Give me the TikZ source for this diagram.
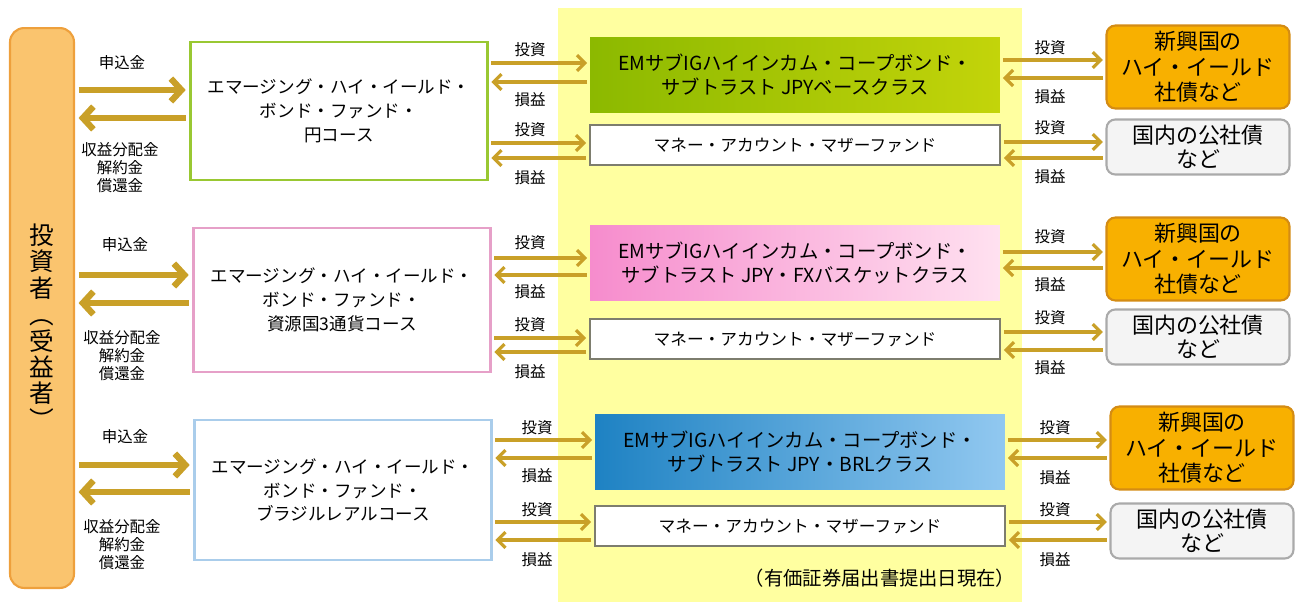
\documentclass[tikz,border=0pt]{standalone}
\usepackage{fontspec}
\setmainfont{Noto Sans CJK JP}
\usepackage{graphicx}
\usepackage{tikz}
\usetikzlibrary{arrows.meta}
\definecolor{gold}{RGB}{201,160,40}
\definecolor{bgyellow}{RGB}{255,255,160}
\definecolor{invfill}{RGB}{250,196,110}
\definecolor{invdraw}{RGB}{238,160,60}
\definecolor{fundgreen}{RGB}{153,200,50}
\definecolor{fundpink}{RGB}{230,160,200}
\definecolor{fundblue}{RGB}{170,205,235}
\definecolor{emgreenL}{RGB}{140,185,0}
\definecolor{emgreenR}{RGB}{195,212,10}
\definecolor{empinkL}{RGB}{246,140,205}
\definecolor{empinkR}{RGB}{255,225,240}
\definecolor{emblueL}{RGB}{30,130,195}
\definecolor{emblueR}{RGB}{145,200,240}
\definecolor{moneygray}{RGB}{125,125,110}
\definecolor{hyfill}{RGB}{248,176,0}
\definecolor{hydraw}{RGB}{212,140,20}
\definecolor{domfill}{RGB}{244,244,244}
\definecolor{domdraw}{RGB}{170,170,170}
\tikzstyle{investor} = [draw=invdraw, line width=1.2pt, rectangle, rounded corners=8pt, fill=invfill, minimum width=1.28cm, minimum height=11.2cm]
\tikzstyle{fundbox} = [line width=1.5pt, rectangle, fill=white, align=center, minimum width=5.94cm, font=\fontsize{10}{13.6}\selectfont]
\tikzstyle{embox} = [rectangle, align=center, minimum width=8.2cm, minimum height=1.5cm, font=\fontsize{11}{13.5}\selectfont]
\tikzstyle{moneybox} = [draw=moneygray, line width=1.5pt, rectangle, fill=white, minimum width=8.2cm, minimum height=0.8cm, font=\fontsize{9.5}{12}\selectfont]
\tikzstyle{hybox} = [draw=hydraw, line width=1.2pt, rectangle, rounded corners=5pt, fill=hyfill, align=center, minimum width=3.66cm, minimum height=1.58cm, font=\fontsize{12.5}{14.5}\selectfont]
\tikzstyle{dombox} = [draw=domdraw, line width=1.2pt, rectangle, rounded corners=5pt, fill=domfill, align=center, minimum width=3.66cm, minimum height=1.02cm, font=\fontsize{12.5}{13.5}\selectfont]
\tikzstyle{bigarrow} = [draw=gold, line width=3.6pt, shorten <=2pt, shorten >=2pt, -{Straight Barb[length=6pt,width=13pt]}]
\tikzstyle{smallarrow} = [draw=gold, line width=1.8pt, shorten <=1.5pt, shorten >=1.5pt, -{Straight Barb[length=4.5pt,width=9pt]}]
\tikzstyle{lbl} = [inner sep=0pt, align=center, font=\fontsize{8.8}{10.2}\selectfont]

\begin{document}
\begin{tikzpicture}[x=0.02cm, y=-0.02cm]
	\useasboundingbox (0,0) rectangle (1298,602);
	\fill[bgyellow] (558,8) rectangle (1022,602);

	% investor
	\node [investor] (inv) at (42,308) {};
	\node [font=\fontsize{14}{15}\selectfont, align=center] (invlabel) at (42,328) {投\\資\\者\\\rotatebox[origin=c]{-90}{（}\\受\\益\\者\\\rotatebox[origin=c]{-90}{）}};

	% row 1
	\node [fundbox, draw=fundgreen, minimum height=2.76cm] (fund1) at (339,111) {エマージング・ハイ・イールド・\\ボンド・ファンド・\\円コース};
	\node [embox, left color=emgreenL, right color=emgreenR] (em1) at (795,75) {EMサブIGハイインカム・コープボンド・\\サブトラスト JPYベースクラス};
	\node [moneybox] (mm1) at (795,145) {マネー・アカウント・マザーファンド};
	\node [hybox] (hy1) at (1198,67) {新興国の\\ハイ・イールド\\社債など};
	\node [dombox] (dom1) at (1198,147) {国内の公社債\\など};

	\draw [bigarrow] (inv.east |- 0,90) -- (fund1.west |- 0,90);
	\draw [bigarrow] (fund1.west |- 0,118) -- (inv.east |- 0,118);
	\node [lbl] (in1) at (122,63) {申込金};
	\node [lbl] (out1) at (120,168) {収益分配金\\解約金\\償還金};

	\draw [smallarrow] (fund1.east |- 0,63) -- (em1.west |- 0,63);
	\draw [smallarrow] (em1.west |- 0,82) -- (fund1.east |- 0,82);
	\draw [smallarrow] (fund1.east |- 0,143) -- (mm1.west |- 0,143);
	\draw [smallarrow] (mm1.west |- 0,158) -- (fund1.east |- 0,158);
	\node [lbl] (a1) at (530,50) {投資};
	\node [lbl] (b1) at (530,100) {損益};
	\node [lbl] (c1) at (530,130) {投資};
	\node [lbl] (d1) at (530,178) {損益};

	\draw [smallarrow] (em1.east |- 0,60) -- (hy1.west |- 0,60);
	\draw [smallarrow] (hy1.west |- 0,78) -- (em1.east |- 0,78);
	\draw [smallarrow] (mm1.east |- 0,142) -- (dom1.west |- 0,142);
	\draw [smallarrow] (dom1.west |- 0,158) -- (mm1.east |- 0,158);
	\node [lbl] (e1) at (1050,48) {投資};
	\node [lbl] (f1) at (1050,97) {損益};
	\node [lbl] (g1) at (1050,128) {投資};
	\node [lbl] (h1) at (1050,177) {損益};

	% row 2
	\node [fundbox, draw=fundpink, minimum height=2.88cm] (fund2) at (342,300) {エマージング・ハイ・イールド・\\ボンド・ファンド・\\資源国3通貨コース};
	\node [embox, left color=empinkL, right color=empinkR] (em2) at (795,263) {EMサブIGハイインカム・コープボンド・\\サブトラスト JPY・FXバスケットクラス};
	\node [moneybox] (mm2) at (795,339) {マネー・アカウント・マザーファンド};
	\node [hybox] (hy2) at (1198,259) {新興国の\\ハイ・イールド\\社債など};
	\node [dombox] (dom2) at (1198,337) {国内の公社債\\など};

	\draw [bigarrow] (inv.east |- 0,275) -- (fund2.west |- 0,275);
	\draw [bigarrow] (fund2.west |- 0,303) -- (inv.east |- 0,303);
	\node [lbl] (in2) at (125,245) {申込金};
	\node [lbl] (out2) at (122,356) {収益分配金\\解約金\\償還金};

	\draw [smallarrow] (fund2.east |- 0,258) -- (em2.west |- 0,258);
	\draw [smallarrow] (em2.west |- 0,275) -- (fund2.east |- 0,275);
	\draw [smallarrow] (fund2.east |- 0,338) -- (mm2.west |- 0,338);
	\draw [smallarrow] (mm2.west |- 0,352) -- (fund2.east |- 0,352);
	\node [lbl] (a2) at (530,243) {投資};
	\node [lbl] (b2) at (530,292) {損益};
	\node [lbl] (c2) at (530,325) {投資};
	\node [lbl] (d2) at (530,372) {損益};

	\draw [smallarrow] (em2.east |- 0,252) -- (hy2.west |- 0,252);
	\draw [smallarrow] (hy2.west |- 0,268) -- (em2.east |- 0,268);
	\draw [smallarrow] (mm2.east |- 0,332) -- (dom2.west |- 0,332);
	\draw [smallarrow] (dom2.west |- 0,350) -- (mm2.east |- 0,350);
	\node [lbl] (e2) at (1050,237) {投資};
	\node [lbl] (f2) at (1050,285) {損益};
	\node [lbl] (g2) at (1050,318) {投資};
	\node [lbl] (h2) at (1050,368) {損益};

	% row 3
	\node [fundbox, draw=fundblue, minimum height=2.8cm] (fund3) at (343,490) {エマージング・ハイ・イールド・\\ボンド・ファンド・\\ブラジルレアルコース};
	\node [embox, left color=emblueL, right color=emblueR] (em3) at (800,452) {EMサブIGハイインカム・コープボンド・\\サブトラスト JPY・BRLクラス};
	\node [moneybox] (mm3) at (800,526) {マネー・アカウント・マザーファンド};
	\node [hybox] (hy3) at (1202,448) {新興国の\\ハイ・イールド\\社債など};
	\node [dombox] (dom3) at (1202,531) {国内の公社債\\など};

	\draw [bigarrow] (inv.east |- 0,465) -- (fund3.west |- 0,465);
	\draw [bigarrow] (fund3.west |- 0,492) -- (inv.east |- 0,492);
	\node [lbl] (in3) at (125,437) {申込金};
	\node [lbl] (out3) at (122,545) {収益分配金\\解約金\\償還金};

	\draw [smallarrow] (fund3.east |- 0,440) -- (em3.west |- 0,440);
	\draw [smallarrow] (em3.west |- 0,458) -- (fund3.east |- 0,458);
	\draw [smallarrow] (fund3.east |- 0,522) -- (mm3.west |- 0,522);
	\draw [smallarrow] (mm3.west |- 0,540) -- (fund3.east |- 0,540);
	\node [lbl] (a3) at (537,428) {投資};
	\node [lbl] (b3) at (537,476) {損益};
	\node [lbl] (c3) at (537,510) {投資};
	\node [lbl] (d3) at (537,560) {損益};

	\draw [smallarrow] (em3.east |- 0,440) -- (hy3.west |- 0,440);
	\draw [smallarrow] (hy3.west |- 0,458) -- (em3.east |- 0,458);
	\draw [smallarrow] (mm3.east |- 0,522) -- (dom3.west |- 0,522);
	\draw [smallarrow] (dom3.west |- 0,540) -- (mm3.east |- 0,540);
	\node [lbl] (e3) at (1055,428) {投資};
	\node [lbl] (f3) at (1055,478) {損益};
	\node [lbl] (g3) at (1055,510) {投資};
	\node [lbl] (h3) at (1055,560) {損益};

	\node [font=\fontsize{11}{12}\selectfont] (note) at (880,578) {（有価証券届出書提出日現在）};
\end{tikzpicture}
\end{document}
